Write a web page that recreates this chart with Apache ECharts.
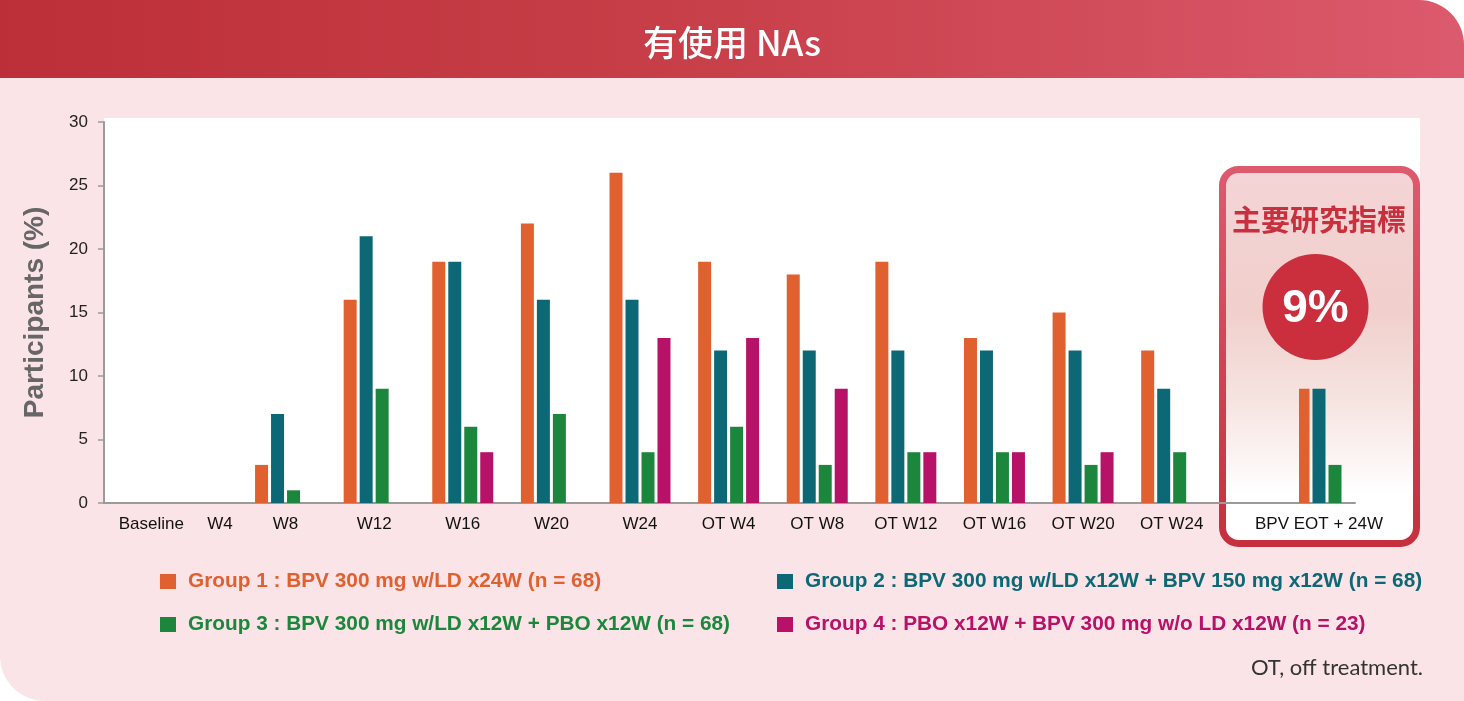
<!DOCTYPE html>
<html>
<head>
<meta charset="utf-8">
<script src="https://cdn.jsdelivr.net/npm/echarts@6/dist/echarts.min.js"></script>
<style>
html,body{margin:0;padding:0;background:#ffffff;}
#chart{width:1464px;height:701px;}
</style>
</head>
<body>
<div id="chart"></div>
<script>
// ---- data ----
const categories = ['Baseline','W4','W8','W12','W16','W20','W24','OT W4','OT W8','OT W12','OT W16','OT W20','OT W24'];
const group1 = [0,0,3,16,19,22,26,19,18,19,13,15,12];
const group2 = [0,0,7,21,19,16,16,12,12,12,12,12,9];
const group3 = [0,0,1,9,6,7,4,6,3,4,4,3,4];
const group4 = [0,0,null,null,4,null,13,13,9,4,4,4,null];
const eotCategory = ['BPV EOT + 24W'];
const eotValues = [9, 9, 3, null]; // group 1..4
const groupNames = [
  'Group 1 : BPV 300 mg w/LD x24W (n = 68)',
  'Group 2 : BPV 300 mg w/LD x12W + BPV 150 mg x12W (n = 68)',
  'Group 3 : BPV 300 mg w/LD x12W + PBO x12W (n = 68)',
  'Group 4 : PBO x12W + BPV 300 mg w/o LD x12W (n = 23)'
];
const yMin = 0, yMax = 30, yStep = 5;
const titleText = '有使用 NAs';
const yAxisTitle = 'Participants (%)';
const highlightTitle = '主要研究指標';
const highlightValue = '9%';
const footnote = 'OT, off treatment.';

// ---- styles ----
const colors = ['#E1602F', '#0C6874', '#1C873C', '#B71168'];
const FONT = 'Liberation Sans, Arial, sans-serif';
const CJK = '"Noto Sans CJK TC", "Noto Sans CJK SC", sans-serif';
const groupData = [group1, group2, group3, group4];

const chart = echarts.init(document.getElementById('chart'), null, {renderer:'canvas'});

const series = [];
groupData.forEach((g, k) => {
  series.push({
    name: groupNames[k], type: 'bar', xAxisIndex: 1, yAxisIndex: 1,
    data: g, barWidth: 13, barGap: '23%', itemStyle: {color: colors[k]}, z: 3
  });
  series.push({
    name: groupNames[k], type: 'bar', xAxisIndex: 2, yAxisIndex: 2,
    data: [eotValues[k]], barWidth: 13, barGap: '23%', itemStyle: {color: colors[k]}, z: 3
  });
});

const labelBase = {fontFamily: FONT, fontSize: 17, color: '#111'};
const legendText = {fontFamily: FONT, fontSize: 20.8, fontWeight: 'bold', padding: [0,0,0,7]};

const option = {
  animation: false,
  backgroundColor: '#ffffff',
  graphic: [
    {type:'rect', z:-20, shape:{x:0,y:0,width:1464,height:701,r:[0,45,0,45]}, style:{fill:'#FBE4E7'}},
    {type:'rect', z:-19, shape:{x:0,y:0,width:1464,height:78,r:[0,45,0,0]},
      style:{fill:new echarts.graphic.LinearGradient(0,0,1,0,[{offset:0,color:'#BD2F38'},{offset:0.5,color:'#C8404A'},{offset:1,color:'#DC5A6D'}])}},
    {type:'text', z:10, style:{x:732,y:43,text:titleText,fill:'#ffffff',font:'500 35px ' + CJK, textAlign:'center', textVerticalAlign:'middle'}},
    {type:'rect', z:-18, shape:{x:104,y:118,width:1316,height:385}, style:{fill:'#ffffff'}},
    {type:'rect', z:-17, shape:{x:1222.5,y:169.5,width:194,height:374,r:16},
      style:{
        fill:new echarts.graphic.LinearGradient(0,0,0,1,[{offset:0,color:'#F4D4D6'},{offset:0.38,color:'#F0CFCC'},{offset:0.62,color:'#F6E4E1'},{offset:0.86,color:'#FFFFFF'},{offset:1,color:'#FFFFFF'}]),
        stroke:new echarts.graphic.LinearGradient(0,0,0,1,[{offset:0,color:'#DD5B6E'},{offset:1,color:'#C62F3D'}]),
        lineWidth:7
      }},
    {type:'text', z:10, style:{x:1319,y:220,text:highlightTitle,fill:'#C9303E',font:'bold 29px ' + CJK, textAlign:'center', textVerticalAlign:'middle'}},
    {type:'circle', z:10, shape:{cx:1315.5,cy:307,r:53}, style:{fill:'#CB2E3D'}},
    {type:'text', z:11, style:{x:1315.5,y:309,text:highlightValue,fill:'#ffffff',font:'bold 46px ' + FONT, textAlign:'center', textVerticalAlign:'middle'}},
    {type:'text', z:10, style:{x:1423,y:668,text:footnote,fill:'#333333',font:'22px Lato, "Open Sans", sans-serif', textAlign:'right', textVerticalAlign:'middle'}}
  ],
  grid: [
    {left:104, top:122, width:1251, height:381},
    {left:64, top:122, width:1152, height:381},
    {left:1299, top:122, width:56, height:381}
  ],
  xAxis: [
    {gridIndex:0, type:'value', min:0, max:1, axisLine:{show:true, lineStyle:{color:'#9B9B9B', width:2}}, axisTick:{show:false}, axisLabel:{show:false}, splitLine:{show:false}},
    {gridIndex:1, type:'category', data:categories, axisLine:{show:false}, axisTick:{show:false},
      axisLabel:Object.assign({}, labelBase, {interval:0, margin:13,
        formatter: v => v === 'Baseline' ? '{s1|' + v + '}' : (v === 'W4' ? '{s2|' + v + '}' : v),
        rich:{s1:Object.assign({}, labelBase, {padding:[0,0,0,86]}), s2:Object.assign({}, labelBase, {padding:[0,0,0,46]})}
      })},
    {gridIndex:2, type:'category', data:eotCategory, axisLine:{show:false}, axisTick:{show:false},
      axisLabel:Object.assign({}, labelBase, {interval:0, margin:13,
        formatter: v => '{e|' + v + '}',
        rich:{e:Object.assign({}, labelBase, {padding:[0,16,0,0]})}
      })}
  ],
  yAxis: [
    {gridIndex:0, type:'value', min:yMin, max:yMax, interval:yStep,
      axisLine:{show:true, lineStyle:{color:'#9B9B9B', width:2}},
      axisTick:{show:true, length:6, lineStyle:{color:'#9B9B9B', width:1.5}},
      axisLabel:{fontFamily:FONT, fontSize:17, color:'#222', margin:16},
      splitLine:{show:false},
      name:yAxisTitle, nameLocation:'middle', nameGap:55,
      nameTextStyle:{fontFamily:FONT, fontSize:28, fontWeight:'bold', color:'#666666'}},
    {gridIndex:1, type:'value', min:yMin, max:yMax, interval:yStep, show:false},
    {gridIndex:2, type:'value', min:yMin, max:yMax, interval:yStep, show:false}
  ],
  legend: [
    {left:160, top:571, padding:0, orient:'vertical', itemGap:22, itemWidth:16, itemHeight:15, icon:'rect', selectedMode:false,
      textStyle:legendText,
      data:[{name:groupNames[0], textStyle:{color:colors[0]}}, {name:groupNames[2], textStyle:{color:colors[2]}}]},
    {left:777, top:571, padding:0, orient:'vertical', itemGap:22, itemWidth:16, itemHeight:15, icon:'rect', selectedMode:false,
      textStyle:legendText,
      data:[{name:groupNames[1], textStyle:{color:colors[1]}}, {name:groupNames[3], textStyle:{color:colors[3]}}]}
  ],
  series: series
};
chart.setOption(option);
</script>
</body>
</html>
